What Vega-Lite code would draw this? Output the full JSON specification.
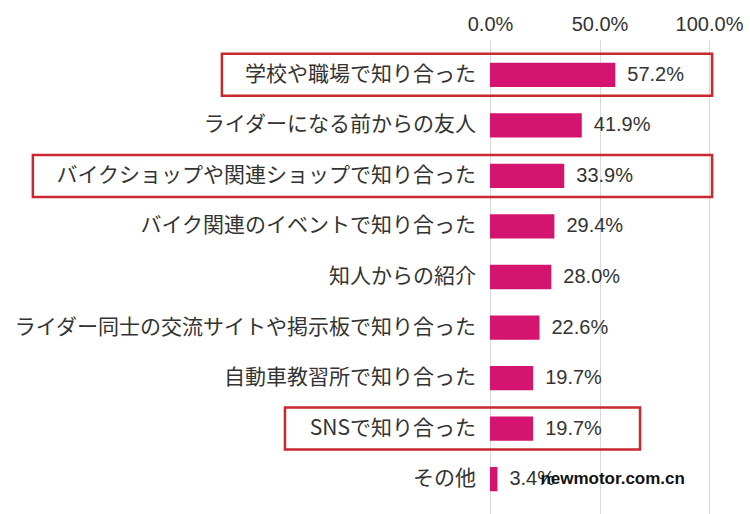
{
  "$schema": "https://vega.github.io/schema/vega-lite/v6.json",
  "width": 750,
  "height": 474,
  "autosize": "none",
  "padding": {"top": 40, "left": 0, "right": 0, "bottom": 0},
  "background": "white",
  "config": {"view": {"stroke": null}, "font": "Noto Sans CJK JP"},
  "datasets": {
    "main": [
      {"label": "学校や職場で知り合った", "value": 57.2},
      {"label": "ライダーになる前からの友人", "value": 41.9},
      {"label": "バイクショップや関連ショップで知り合った", "value": 33.9},
      {"label": "バイク関連のイベントで知り合った", "value": 29.4},
      {"label": "知人からの紹介", "value": 28.0},
      {"label": "ライダー同士の交流サイトや掲示板で知り合った", "value": 22.6},
      {"label": "自動車教習所で知り合った", "value": 19.7},
      {"label": "SNSで知り合った", "value": 19.7},
      {"label": "その他", "value": 3.4}
    ],
    "boxes": [
      {"label": "学校や職場で知り合った", "from": -122.4, "to": 101.4},
      {"label": "バイクショップや関連ショップで知り合った", "from": -208.7, "to": 101.4},
      {"label": "SNSで知り合った", "from": -93.6, "to": 68.5}
    ]
  },
  "encoding": {
    "y": {
      "field": "label",
      "type": "nominal",
      "sort": null,
      "axis": null,
      "scale": {
        "domain": ["学校や職場で知り合った", "ライダーになる前からの友人", "バイクショップや関連ショップで知り合った", "バイク関連のイベントで知り合った", "知人からの紹介", "ライダー同士の交流サイトや掲示板で知り合った", "自動車教習所で知り合った", "SNSで知り合った", "その他"],
        "paddingInner": 0.52,
        "paddingOuter": 0.45
      }
    }
  },
  "layer": [
    {
      "data": {"name": "main"},
      "mark": {"type": "bar", "color": "#d4146f"},
      "encoding": {
        "x": {
          "field": "value",
          "type": "quantitative",
          "scale": {"domain": [-223.7, 118.7], "nice": false, "zero": false},
          "axis": {
            "orient": "top",
            "values": [0, 50, 100],
            "labelExpr": "format(datum.value, '.1f') + '%'",
            "labelFontSize": 20,
            "labelColor": "#333",
            "labelFont": "Liberation Sans",
            "domain": false,
            "ticks": false,
            "labelPadding": 6,
            "grid": true,
            "gridColor": "#d9d9d9",
            "title": null
          }
        }
      }
    },
    {
      "data": {"name": "main"},
      "transform": [{"calculate": "format(datum.value, '.1f') + '%'", "as": "txt"}],
      "mark": {"type": "text", "align": "left", "dx": 12, "fontSize": 20, "color": "#333", "font": "Liberation Sans"},
      "encoding": {
        "x": {"field": "value", "type": "quantitative"},
        "text": {"field": "txt"}
      }
    },
    {
      "data": {"name": "main"},
      "mark": {"type": "text", "align": "right", "dx": -14, "fontSize": 21, "color": "#333"},
      "encoding": {
        "x": {"datum": 0},
        "text": {"field": "label"}
      }
    },
    {
      "data": {"name": "boxes"},
      "mark": {"type": "bar", "height": 42, "fill": null, "fillOpacity": 0, "stroke": "#c8282e", "strokeWidth": 2.5},
      "encoding": {
        "x": {"field": "from", "type": "quantitative"},
        "x2": {"field": "to"}
      }
    },
    {
      "data": {"values": [{"t": "newmotor.com.cn"}]},
      "mark": {"type": "text", "align": "center", "fontSize": 17, "fontWeight": "bold", "color": "#111", "font": "Liberation Sans"},
      "encoding": {
        "x": {"datum": 56},
        "y": {"datum": "その他"},
        "text": {"field": "t"}
      }
    }
  ]
}
